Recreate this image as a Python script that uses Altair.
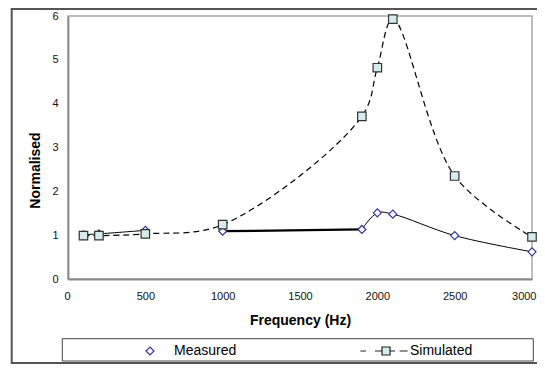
import altair as alt
import pandas as pd

# ---- data ----
freq = [100, 200, 500, 1000, 1900, 2000, 2100, 2500, 3000]
measured = [1.01, 1.03, 1.11, 1.09, 1.13, 1.51, 1.48, 0.99, 0.62]
simulated = [0.99, 0.99, 1.03, 1.24, 3.71, 4.82, 5.93, 2.35, 0.96]
series_names = ["Measured", "Simulated"]
x_ticks = [0, 500, 1000, 1500, 2000, 2500, 3000]
y_ticks = [0, 1, 2, 3, 4, 5, 6]
# pieces of the measured curve as drawn in the figure (point indices)
thin_segments = {"a": [0, 1, 2], "c": [4, 5, 6, 7, 8]}
thick_segments = {"b": [3, 4]}

FONT = "Liberation Sans"
SIM_FILL = "#D6ECEC"
MEAS_STROKE = "#333399"
# legend glyph for Simulated: square with dashes on both sides
SIM_PATH = "M-1,-1H1V1H-1Z M-6.4,0H-5 M-2.75,0H-1 M1,0H2.25 M3.4,0H5.4"

meas_df = pd.DataFrame({"freq": freq, "value": measured})
sim_df = pd.DataFrame({"freq": freq, "value": simulated})


def seg_frame(segments):
    rows = []
    for s, idx in segments.items():
        for k, i in enumerate(idx):
            rows.append({"freq": freq[i], "value": measured[i], "seg": s, "ord": k})
    return pd.DataFrame(rows)


thin_df = seg_frame(thin_segments)
thick_df = seg_frame(thick_segments)

x_enc = alt.X(
    "freq:Q",
    scale=alt.Scale(domain=[0, 3000], nice=False),
    axis=alt.Axis(
        values=x_ticks, format="d", title="Frequency (Hz)", labelPadding=11,
        labelFlush=True, labelFlushOffset=4, titleY=41, titleBaseline="middle",
    ),
)
y_enc = alt.Y(
    "value:Q",
    scale=alt.Scale(domain=[0, 6], nice=False),
    axis=alt.Axis(
        values=y_ticks, title="Normalised", labelPadding=10, labelFlush=False,
        titleX=-33, titleY=154, titleAngle=-90, titleAlign="center",
        titleBaseline="middle",
    ),
)

sim_line = alt.Chart(sim_df).mark_line(
    color="black", strokeWidth=1.2, strokeDash=[6, 4], interpolate="catmull-rom"
).encode(x=x_enc, y=y_enc)

meas_thin = alt.Chart(thin_df).mark_line(
    color="black", strokeWidth=1, interpolate="catmull-rom"
).encode(x=x_enc, y=y_enc, detail="seg:N", order="ord:Q")

meas_thick = alt.Chart(thick_df).mark_line(
    color="black", strokeWidth=2.2
).encode(x=x_enc, y=y_enc, detail="seg:N", order="ord:Q")

meas_pts = alt.Chart(meas_df).mark_point(
    shape="diamond", size=64, filled=True, fill="white", stroke=MEAS_STROKE,
    strokeWidth=1.2, opacity=1,
).encode(x=x_enc, y=y_enc)

sim_pts = alt.Chart(sim_df).mark_point(
    shape="square", size=72, filled=True, fill=SIM_FILL, stroke="#333333",
    strokeWidth=1.2, opacity=1,
).encode(x=x_enc, y=y_enc)

leg = alt.Legend(
    orient="none", legendX=75, legendY=328, direction="horizontal", columns=2,
    title=None, labelFont=FONT, labelFontSize=14, labelColor="black",
    labelOffset=17, columnPadding=121, symbolSize=64, symbolStrokeWidth=1.2,
    padding=0,
)
legend_df = pd.DataFrame({"freq": [0, 0], "value": [0, 0], "series": series_names})
legend_layer = alt.Chart(legend_df).transform_filter("false").mark_point(
    size=64, opacity=1, strokeWidth=1.2
).encode(
    x=x_enc, y=y_enc,
    shape=alt.Shape("series:N", scale=alt.Scale(domain=series_names, range=["diamond", SIM_PATH]), legend=leg),
    fill=alt.Fill("series:N", scale=alt.Scale(domain=series_names, range=["white", SIM_FILL]), legend=leg),
    stroke=alt.Stroke("series:N", scale=alt.Scale(domain=series_names, range=[MEAS_STROKE, "#222222"]), legend=leg),
)

deco_df = pd.DataFrame({"k": [0]})
legend_box = alt.Chart(deco_df).mark_rect(
    filled=False, stroke="#444444", strokeWidth=1
).encode(x=alt.value(-5.7), x2=alt.value(465.3), y=alt.value(322.7), y2=alt.value(345))
frame = alt.Chart(deco_df).mark_rect(
    filled=False, stroke="#555555", strokeWidth=2
).encode(x=alt.value(-56.3), x2=alt.value(495), y=alt.value(-7), y2=alt.value(347))

chart = alt.layer(
    frame, legend_box, sim_line, meas_thin, meas_thick, meas_pts, sim_pts, legend_layer
).properties(
    width=464, height=263,
    padding={"left": 60, "top": 8, "right": 5, "bottom": 85},
    autosize=alt.AutoSizeParams(type="none"),
    background="white",
).configure_view(
    stroke="#A8A8A8", strokeWidth=1.5
).configure_axis(
    grid=False, ticks=False, tickSize=0, domainColor="#8A8A8A", domainWidth=1.8,
    labelFont=FONT, labelFontSize=11, labelColor="#111111",
    titleFont=FONT, titleFontSize=14, titleFontWeight="bold", titleColor="black",
)

chart.save("out.html", embed_options={"renderer": "svg", "actions": False})
